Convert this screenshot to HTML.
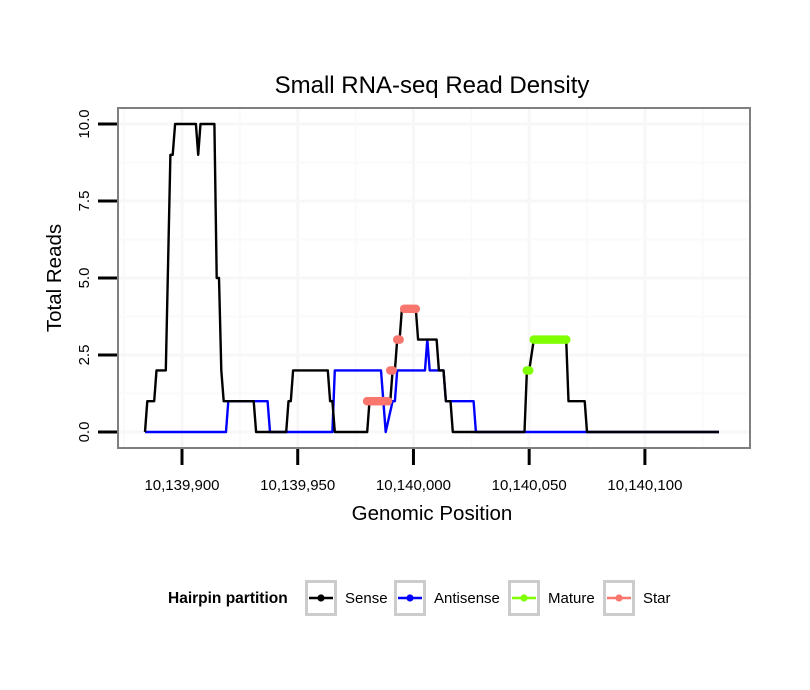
<!DOCTYPE html>
<html><head><meta charset="utf-8"><style>
body{margin:0;background:#fff;}
svg{display:block;font-family:"Liberation Sans",sans-serif;}
</style></head><body>
<svg id="chart" width="810" height="690" viewBox="0 0 810 690">
<rect x="0" y="0" width="810" height="690" fill="#fff"/>
<text x="432" y="93" font-size="24" text-anchor="middle">Small RNA-seq Read Density</text>
<g id="grid"></g>
<g id="series"></g>
<rect x="118" y="108" width="632" height="340" fill="none" stroke="#7f7f7f" stroke-width="2"/>
<g id="axes"></g>
<text x="432" y="520" font-size="20.5" text-anchor="middle">Genomic Position</text>
<text transform="translate(61,278) rotate(-90)" font-size="20.5" text-anchor="middle">Total Reads</text>
<g>
<text x="168" y="603" font-size="15.5" font-weight="bold">Hairpin partition</text>
<g id="legend"></g>
</g>
</svg>
<script>
const xTicks=[10139900,10139950,10140000,10140050,10140100];
const xTickLabels=["10,139,900","10,139,950","10,140,000","10,140,050","10,140,100"];
const yTicks=[0,2.5,5,7.5,10];
const yTickLabels=["0.0","2.5","5.0","7.5","10.0"];
const senseOffsets=[-16,-15,-12,-11,-7,-5,-4,-3,6,7,8,14,15,16,17,18,31,32,45,46,47,48,63,64,65,66,80,81,90,91,92,93,94,95,101,102,110,111,113,114,116,117,148,149,150,152,166,167,174,175,232];
const senseValues=[0,1,1,2,2,9,9,10,10,9,10,10,5,5,2,1,1,0,0,1,1,2,2,1,1,0,0,1,1,2,2,3,3,4,4,3,3,2,2,1,1,0,0,2,2,3,3,1,1,0,0];
const antiOffsets=[-16,19,20,37,38,65,66,86,88,91,92,93,105,106,107,113,114,126,127,232];
const antiValues=[0,0,1,1,0,0,2,2,0,1,1,2,2,3,2,2,1,1,0,0];
const starOffsets=[80,81,82,83,84,85,86,87,88,89,90,91,93,94,96,97,98,99,100,101];
const starValues=[1,1,1,1,1,1,1,1,1,1,2,2,3,3,4,4,4,4,4,4];
const matureOffsets=[149,150,152,153,154,155,156,157,158,159,160,161,162,163,164,165,166];
const matureValues=[2,2,3,3,3,3,3,3,3,3,3,3,3,3,3,3,3];
const BASE=10139900;
const NS="http://www.w3.org/2000/svg";
function sx(pos){return 182+(pos-BASE)*2.3145;}
function sy(v){return 432-v*30.8;}
function mk(tag,attrs,parent){const e=document.createElementNS(NS,tag);for(const k in attrs)e.setAttribute(k,attrs[k]);parent.appendChild(e);return e;}
const grid=document.getElementById('grid'),axes=document.getElementById('axes'),series=document.getElementById('series'),legend=document.getElementById('legend');
for(let i=-1;i<xTicks.length;i++){const p=xTicks[Math.max(i,0)]+(i<0?-25:25);
 const l=mk('line',{x1:sx(p),x2:sx(p),y1:109,y2:447,stroke:'#fafafa','stroke-width':2},grid);
 
 }
xTicks.forEach(t=>{const l=mk('line',{x1:sx(t),x2:sx(t),y1:109,y2:447,stroke:'#f7f7f7','stroke-width':3},grid);
 
 });
for(let i=0;i<yTicks.length-1;i++){const v=(yTicks[i]+yTicks[i+1])/2;
 const l=mk('line',{x1:119,x2:749,y1:sy(v),y2:sy(v),stroke:'#fafafa','stroke-width':2},grid);
 
 }
yTicks.forEach(t=>{const l=mk('line',{x1:119,x2:749,y1:sy(t),y2:sy(t),stroke:'#f7f7f7','stroke-width':3},grid);
 
 });
xTicks.forEach((t,i)=>{const l=mk('line',{x1:sx(t),x2:sx(t),y1:449,y2:465,stroke:'#000','stroke-width':3},axes);
 
 
 const tx=mk('text',{x:sx(t),y:490,'font-size':15,'text-anchor':'middle'},axes);tx.textContent=xTickLabels[i];
 
 });
yTicks.forEach((t,i)=>{const l=mk('line',{x1:98,x2:117,y1:sy(t),y2:sy(t),stroke:'#000','stroke-width':3},axes);
 
 
 const tx=mk('text',{transform:`translate(89,${sy(t)}) rotate(-90)`,'font-size':15,'text-anchor':'middle'},axes);tx.textContent=yTickLabels[i];
 
 });
function line(offs,vals,color,name){const d=offs.map((o,i)=>(i?'L':'M')+sx(BASE+o).toFixed(1)+','+sy(vals[i]).toFixed(1)).join('');
 const p=mk('path',{d:d,fill:'none',stroke:color,'stroke-width':2.4,'stroke-linejoin':'round'},series);
 
 }
function dots(offs,vals,color,name){offs.forEach((o,i)=>{const c=mk('circle',{cx:sx(BASE+o),cy:sy(vals[i]),r:4.3,fill:color},series);
 
 });}
line(antiOffsets,antiValues,'#0000ff','antisense-line');
line(senseOffsets,senseValues,'#000000','sense-line');
dots(starOffsets,starValues,'#f8766d','star-point');
dots(matureOffsets,matureValues,'#7fff00','mature-point');
const legItems=[["Sense","#000",305],["Antisense","#0000ff",394],["Mature","#7fff00",508],["Star","#f8766d",603]];
legItems.forEach(([lab,col,x])=>{
 const b=mk('rect',{x:x+1.5,y:581.5,width:29,height:33,fill:'#fff',stroke:'#cccccc','stroke-width':3},legend);
 
 
 const l=mk('line',{x1:x+4,x2:x+28,y1:598,y2:598,stroke:col,'stroke-width':2.4},legend);
 
 
 const c=mk('circle',{cx:x+16,cy:598,r:3.6,fill:col},legend);
 
 
 const t=mk('text',{x:x+40,y:603,'font-size':15},legend);t.textContent=lab;
 
 
});
</script>
</body></html>
